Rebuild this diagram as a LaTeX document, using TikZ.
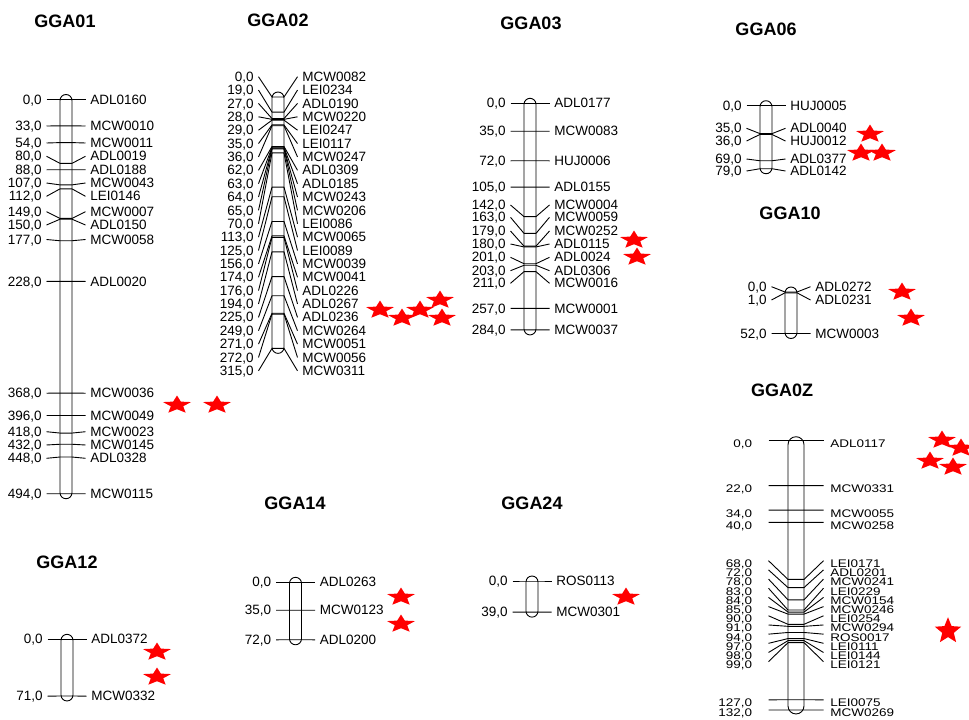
\documentclass[tikz,border=0pt]{standalone}
\usepackage{fontspec}
\setmainfont{Liberation Sans}
% one marker: cM, y of the label row, marker name
\newcommand{\mrk}[3]{%
	\pgfmathsetmacro{\bandy}{\yo+\ysc*#1}
	\draw (\cx-\dl,#2) -- (\cx,\bandy) -- (\cx+\cw,\bandy) -- (\cx+\cw+\dr,#2);
	\node[lab,anchor=base east] (n#3) at (\cx-\dl-\gapl,#2+\ty) {\scalebox{1}[\squash]{#1,0}};
	\node[lab,anchor=base west] (#3) at (\cx+\cw+\dr+\gapr,#2+\ty) {\scalebox{1}[\squash]{#3}};
}
% chromosome bar down to the last cM
\newcommand{\chrom}[1]{%
	\pgfmathsetmacro{\yend}{\yo+\ysc*#1}
	\draw[fill=white,rounded corners=\cw/2] (\cx,\yo-\ext) rectangle (\cx+\cw,\yend+\ext);
}
\begin{document}
\begin{tikzpicture}[x=1pt,y=-1pt,line join=round,line width=.9pt,
	lab/.style={font=\fontsize{13.5}{15}\selectfont,inner sep=0},
	ttl/.style={font=\fontsize{18}{20}\selectfont\bfseries,inner sep=0},
	flat/.style={xscale=1.55},
	qtl/.pic={\fill[red] (90:9.5pt) \foreach \ang in {0,72,...,288}{ -- (90+\ang:9.5pt) -- (126+\ang:4.2pt)} -- cycle;}]
	\useasboundingbox (0,0) rectangle (969,720);
	
	\def\cw{12}
	\def\ysc{0.798}
	\def\dl{13.5}
	\def\dr{13.5}
	\def\gapl{4.5}
	\def\gapr{4.5}
	\def\ty{4.6}
	\def\ext{5}
	\def\squash{1}
	
	% GGA01
	\begin{scope}
		\def\cx{60}\def\yo{99.5}
		\node[ttl] (GGA01) at (65,21) {GGA01};
		\chrom{494}
		\foreach \cm/\ly/\mk in {0/99.5/ADL0160,33/126/MCW0010,54/143/MCW0011,80/156.3/ADL0019,
			88/169.7/ADL0188,107/183/MCW0043,112/196.3/LEI0146,149/211.7/MCW0007,150/225/ADL0150,
			177/239.5/MCW0058,228/281.4/ADL0020,368/393.2/MCW0036,396/415.5/MCW0049,418/431.7/MCW0023,
			432/445/MCW0145,448/458.3/ADL0328,494/493.7/MCW0115}{\mrk{\cm}{\ly}{\mk}}
		\foreach \i/\j in {177/405,217/405}{\pic[flat] at (\i,\j) {qtl};}
	\end{scope}
	
	% GGA02
	\begin{scope}
		\def\cx{272}\def\yo{97}
		\node[ttl] (GGA02) at (278,20) {GGA02};
		\chrom{315}
		\foreach \cm/\mk [count=\i from 0] in {0/MCW0082,19/LEI0234,27/ADL0190,28/MCW0220,29/LEI0247,
			35/LEI0117,36/MCW0247,62/ADL0309,63/ADL0185,64/MCW0243,65/MCW0206,70/LEI0086,113/MCW0065,
			125/LEI0089,156/MCW0039,174/MCW0041,176/ADL0226,194/ADL0267,225/ADL0236,249/MCW0264,
			271/MCW0051,272/MCW0056,315/MCW0311}{\mrk{\cm}{76.7+13.37*\i}{\mk}}
		\foreach \i/\j in {380/310,402/318,420/310,440/300,442/318}{\pic[flat] at (\i,\j) {qtl};}
	\end{scope}
	
	% GGA03
	\begin{scope}
		\def\cx{524}\def\yo{103.3}
		\node[ttl] (GGA03) at (531,23) {GGA03};
		\chrom{284}
		\foreach \cm/\ly/\mk in {0/103.3/ADL0177,35/131.2/MCW0083,72/160.8/HUJ0006,105/187.1/ADL0155,
			142/205/MCW0004,163/217.3/MCW0059,179/231/MCW0252,180/244/ADL0115,201/257.3/ADL0024,
			203/270.7/ADL0306,211/283.3/MCW0016,257/308.4/MCW0001,284/329.9/MCW0037}{\mrk{\cm}{\ly}{\mk}}
		\foreach \i/\j in {634/240,637/257}{\pic[flat] at (\i,\j) {qtl};}
	\end{scope}
	
	% GGA06
	\begin{scope}
		\def\cx{760}\def\yo{105.7}
		\node[ttl] (GGA06) at (766,29) {GGA06};
		\chrom{79}
		\foreach \cm/\ly/\mk in {0/105.7/HUJ0005,35/128.3/ADL0040,36/141/HUJ0012,69/159/ADL0377,
			79/171/ADL0142}{\mrk{\cm}{\ly}{\mk}}
		\foreach \i/\j in {870/134,861/153,882/153}{\pic[flat] at (\i,\j) {qtl};}
	\end{scope}
	
	% GGA10
	\begin{scope}
		\def\cx{785}\def\yo{292}
		\node[ttl] (GGA10) at (790,213) {GGA10};
		\chrom{52}
		\foreach \cm/\ly/\mk in {0/286.7/ADL0272,1/300/ADL0231,52/333.5/MCW0003}{\mrk{\cm}{\ly}{\mk}}
		\foreach \i/\j in {902/292,911/318}{\pic[flat] at (\i,\j) {qtl};}
	\end{scope}
	
	% GGA0Z
	\begin{scope}
		\def\cx{788}\def\cw{16}\def\yo{440.7}\def\ysc{2.04}
		\def\dl{19.5}\def\dr{19.5}\def\gapl{16}\def\gapr{6.5}\def\ty{6.9}\def\ext{4}\def\squash{.82}
		\node[ttl] (GGA0Z) at (782,390) {GGA0Z};
		\chrom{132}
		\foreach \cm/\ly/\mk in {0/440.7/ADL0117,22/485.6/MCW0331,34/510.1/MCW0055,40/522.3/MCW0258,
			127/699.8/LEI0075,132/710/MCW0269}{\mrk{\cm}{\ly}{\mk}}
		\foreach \cm/\mk [count=\i from 0] in {68/LEI0171,72/ADL0201,78/MCW0241,83/LEI0229,84/MCW0154,
			85/MCW0246,90/LEI0254,91/MCW0294,94/ROS0017,97/LEI0111,98/LEI0144,99/LEI0121}{\mrk{\cm}{560.7+9.18*\i}{\mk}}
		\foreach \i/\j in {942/440,961/448,930/461,953/467}{\pic[flat] at (\i,\j) {qtl};}
		\pic[scale=1.45] at (948,631) {qtl};
	\end{scope}
	
	% GGA12
	\begin{scope}
		\def\cx{61}\def\yo{639.3}
		\node[ttl] (GGA12) at (67,562) {GGA12};
		\chrom{71}
		\foreach \cm/\ly/\mk in {0/639.3/ADL0372,71/696.2/MCW0332}{\mrk{\cm}{\ly}{\mk}}
		\foreach \i/\j in {157/652,157/677}{\pic[flat] at (\i,\j) {qtl};}
	\end{scope}
	
	% GGA14
	\begin{scope}
		\def\cx{289.5}\def\yo{582.3}
		\node[ttl] (GGA14) at (295,503) {GGA14};
		\chrom{72}
		\foreach \cm/\ly/\mk in {0/582.3/ADL0263,35/610.2/MCW0123,72/639.8/ADL0200}{\mrk{\cm}{\ly}{\mk}}
		\foreach \i/\j in {401/597,401/624}{\pic[flat] at (\i,\j) {qtl};}
	\end{scope}
	
	% GGA24
	\begin{scope}
		\def\cx{526}\def\yo{581}
		\node[ttl] (GGA24) at (532,503) {GGA24};
		\chrom{39}
		\foreach \cm/\ly/\mk in {0/581/ROS0113,39/612.1/MCW0301}{\mrk{\cm}{\ly}{\mk}}
		\pic[flat] at (626,597) {qtl};
	\end{scope}
\end{tikzpicture}
\end{document}
